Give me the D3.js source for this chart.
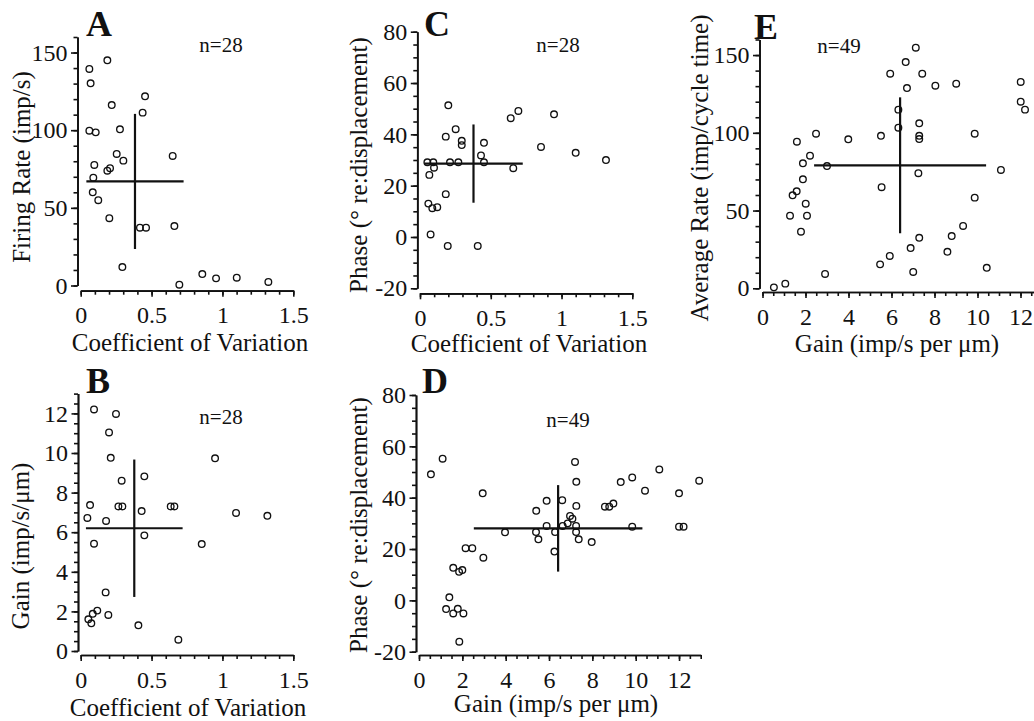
<!DOCTYPE html>
<html>
<head>
<meta charset="utf-8">
<script src="https://cdnjs.cloudflare.com/ajax/libs/d3/7.8.5/d3.min.js"></script>
<style>
body { margin: 0; background: #fff; }
svg { display: block; }
svg text { font-family: "Liberation Serif", "Times New Roman", Times, serif; }
</style>
</head>
<body>
<svg id="svg"></svg>
<script>
// A : coefficient de variation / firing rate
var cvA = [0.061, 0.07, 0.188, 0.061, 0.106, 0.219, 0.277, 0.454, 0.437, 0.096, 0.254, 0.301, 0.188, 0.207,
	0.089, 0.085, 0.124, 0.202, 0.649, 0.418, 0.461, 0.661, 0.294, 0.696, 0.858, 0.955, 1.101, 1.324]
var rateA = [139.4, 130.2, 145, 99.7, 98.6, 116.2, 100.6, 121.8, 111.3, 77.6, 84.7, 80.4, 73.9, 75.5,
	69.4, 60, 54.9, 43.3, 83.4, 37.2, 37.2, 38.3, 11.9, 0.5, 7.4, 4.6, 5, 2.3]

// B : coefficient de variation / gain
var cvB = [0.094, 0.249, 0.2, 0.212, 0.948, 0.449, 0.289, 0.066, 0.266, 0.294, 0.43, 0.635, 0.661, 1.096,
	1.317, 0.047, 0.179, 0.449, 0.094, 0.854, 0.176, 0.054, 0.085, 0.117, 0.075, 0.195, 0.407, 0.689]
var gainB = [12.2, 11.97, 11.04, 9.76, 9.73, 8.82, 8.6, 7.37, 7.3, 7.3, 7.07, 7.3, 7.3, 6.97,
	6.83, 6.72, 6.57, 5.84, 5.42, 5.4, 2.96, 1.6, 1.88, 2.04, 1.4, 1.82, 1.3, 0.57]

// C : coefficient de variation / phase
var cvC = [0.2, 0.641, 0.695, 0.947, 0.252, 0.182, 0.295, 0.295, 0.452, 0.855, 0.431, 1.1, 1.314, 0.052,
	0.094, 0.212, 0.271, 0.452, 0.099, 0.659, 0.066, 0.182, 0.059, 0.087, 0.122, 0.075, 0.196, 0.408]
var phaseC = [51.3, 46.3, 49.1, 47.8, 42, 39.1, 37.5, 35.8, 36.7, 35.1, 31.8, 32.8, 30, 29.1,
	29.1, 29.1, 29.1, 29.1, 27, 26.8, 24.2, 16.7, 13, 11.2, 11.6, 1, -3.5, -3.5]

// D : gain / phase
var gainD = [0.55, 1.09, 2.94, 2.15, 2.46, 2.97, 3.97, 5.41, 5.89, 6.61, 7.2, 7.26, 7.26, 5.4, 5.51, 5.89,
	6.28, 6.25, 6.63, 6.86, 6.97, 7.08, 7.25, 7.25, 7.37, 7.97, 8.58, 8.78, 8.97, 9.31, 9.84, 9.84,
	10.43, 11.09, 12.0, 12.93, 12.0, 12.21, 1.58, 1.85, 2.0, 1.4, 1.25, 1.58, 1.79, 2.05, 1.86]
var phaseD = [49.1, 55.2, 41.7, 20.3, 20.3, 16.6, 26.5, 34.9, 38.8, 39, 53.9, 46.2, 36.8, 26.6, 23.8, 29,
	26.6, 19, 29, 30, 32.9, 31.8, 29, 26.6, 23.8, 22.7, 36.5, 36.5, 37.7, 46.1, 47.9, 28.7,
	42.7, 51, 41.7, 46.6, 28.7, 28.7, 12.7, 11.1, 11.8, 1.2, -3.4, -5.1, -3.3, -5.1, -16.1]

// E : gain / average rate
var gainE = [0.53, 1.06, 2.91, 1.28, 1.4, 1.59, 1.79, 2.01, 2.07, 1.88, 1.88, 1.6, 2.21, 2.49, 3.0, 3.99,
	7.13, 6.66, 5.94, 7.43, 6.72, 8.04, 9.01, 12.01, 12.01, 12.21, 6.32, 6.32, 7.29, 7.29, 7.29,
	9.87, 5.51, 7.25, 11.09, 5.54, 9.87, 9.33, 8.8, 7.29, 6.89, 8.6, 5.92, 5.47, 7.01, 10.43]
var rateE = [0.6, 3, 9.2, 46.7, 59.8, 62.4, 36.4, 54.4, 46.7, 70.1, 80.4, 94.3, 85.3, 99.4, 78.6, 95.8,
	154.7, 145.5, 138, 138, 128.8, 130.3, 131.6, 132.7, 120, 114.9, 114.9, 103.3, 106.1, 98.1, 96,
	99.4, 98.1, 74, 76.1, 65, 58.3, 40.1, 33.6, 32.5, 25.9, 23.5, 20.8, 15.4, 10.5, 13.2]

// croix moyenne : [moyenne x, ecart x, moyenne y, ecart y]
var crossA = [0.383, 0.343, 67, 43.5]
var crossB = [0.378, 0.341, 6.2, 3.47]
var crossC = [0.378, 0.348, 28.6, 15.25]
var crossD = [6.42, 3.89, 28.05, 16.85]
var crossE = [6.4, 4.0, 79.1, 43.7]

// graduations
var ticksCV = [0, 0.5, 1, 1.5]
var ticksRate = [0, 50, 100, 150]
var ticksGainB = [0, 2, 4, 6, 8, 10, 12]
var ticksPhase = [-20, 0, 20, 40, 60, 80]
var ticksGain = [0, 2, 4, 6, 8, 10, 12]

var nLabels = ["n=28", "n=28", "n=28", "n=49", "n=49"]

var SERIF = "Liberation Serif, Times New Roman, Times, serif"

Figure =
{
	panels: [
		{ letter: "A", xs: cvA, ys: rateA, cross: crossA, n: nLabels[0],
			xDom: [0, 1.5], xRange: [80.7, 293.3], xMajor: ticksCV, xMinor: 0.1, xAxisY: 290.7,
			yDom: [0, 160], yRange: [285.5, 37], yMajor: ticksRate, yMinor: 10, yAxisX: 77.5,
			xTitle: "Coefficient of Variation", xTitlePos: [190, 351],
			yTitle: "Firing Rate (imp/s)", yTitlePos: [30, 167],
			letterPos: [86, 36], nPos: [221, 52] },
		{ letter: "B", xs: cvB, ys: gainB, cross: crossB, n: nLabels[1],
			xDom: [0, 1.5], xRange: [80.7, 293.3], xMajor: ticksCV, xMinor: 0.1, xAxisY: 655,
			yDom: [0, 13], yRange: [651, 393.6], yMajor: ticksGainB, yMinor: 0.5, yAxisX: 78,
			xTitle: "Coefficient of Variation", xTitlePos: [188, 716],
			yTitle: "Gain (imp/s/\u03bcm)", yTitlePos: [29, 546],
			letterPos: [86, 393], nPos: [221, 424] },
		{ letter: "C", xs: cvC, ys: phaseC, cross: crossC, n: nLabels[2],
			xDom: [0, 1.5], xRange: [420, 632.3], xMajor: ticksCV, xMinor: 0.1, xAxisY: 293.3,
			yDom: [-20, 80], yRange: [288.3, 31.7], yMajor: ticksPhase, yMinor: 5, yAxisX: 417.3,
			xTitle: "Coefficient of Variation", xTitlePos: [529, 352],
			yTitle: "Phase (\u00b0 re:displacement)", yTitlePos: [367, 165],
			letterPos: [424, 36], nPos: [558, 52] },
		{ letter: "D", xs: gainD, ys: phaseD, cross: crossD, n: nLabels[3],
			xDom: [0, 13], xRange: [419, 700.7], xMajor: ticksGain, xMinor: 0.5, xAxisY: 655,
			yDom: [-20, 80], yRange: [651.7, 395], yMajor: ticksPhase, yMinor: 5, yAxisX: 416,
			xTitle: "Gain (imp/s per \u03bcm)", xTitlePos: [556, 712],
			yTitle: "Phase (\u00b0 re:displacement)", yTitlePos: [367, 525],
			letterPos: [422, 393], nPos: [568, 427] },
		{ letter: "E", xs: gainE, ys: rateE, cross: crossE, n: nLabels[4],
			xDom: [0, 13], xRange: [762.5, 1042], xMajor: ticksGain, xMinor: 0.5, xAxisY: 292,
			yDom: [0, 160], yRange: [288.3, 39.5], yMajor: ticksRate, yMinor: 10, yAxisX: 759.5,
			xTitle: "Gain (imp/s per \u03bcm)", xTitlePos: [897, 352],
			yTitle: "Average Rate (imp/cycle time)", yTitlePos: [708, 168],
			letterPos: [754, 39], nPos: [839, 53] }
	],

	draw_line(g, x1, y1, x2, y2, w){
		g.append("line")
			.attr("x1", x1)
			.attr("y1", y1)
			.attr("x2", x2)
			.attr("y2", y2)
			.attr("stroke", "#111")
			.attr("stroke-width", w)
	},

	draw_text(g, text, x, y, size, weight, anchor){
		return g.append("text")
			.text(text)
			.attr("x", x)
			.attr("y", y)
			.attr("fill", "#111")
			.style("font-family", SERIF)
			.style("font-size", size + "px")
			.style("font-weight", weight)
			.attr("text-anchor", anchor)
	},

	// petites graduations entre les grandes
	minor_ticks(dom, step){
		var out = []
		var k = Math.round((dom[1] - dom[0]) / step)
		for (let i = 0; i <= k; i++){
			out.push(+(dom[0] + i * step).toFixed(4))
		}
		return out
	},

	draw_panel(p){
		var that = this
		var g = canevas.append("g")

		var x = d3.scaleLinear().domain(p.xDom).range(p.xRange)
		var y = d3.scaleLinear().domain(p.yDom).range(p.yRange)
		var fmt = function(d){ return String(d) }

		// axe y : petites puis grandes graduations (groupes separes)
		g.append("g").attr("transform", "translate(" + p.yAxisX + ",0)")
			.call(d3.axisLeft(y).tickValues(that.minor_ticks(p.yDom, p.yMinor)).tickSize(4).tickSizeOuter(0).tickFormat(""))
		g.append("g").attr("transform", "translate(" + p.yAxisX + ",0)")
			.call(d3.axisLeft(y).tickValues(p.yMajor).tickSize(6.5).tickSizeOuter(0).tickPadding(3.5).tickFormat(fmt))

		// axe x
		g.append("g").attr("transform", "translate(0," + p.xAxisY + ")")
			.call(d3.axisBottom(x).tickValues(that.minor_ticks(p.xDom, p.xMinor)).tickSize(4).tickSizeOuter(0).tickFormat(""))
		g.append("g").attr("transform", "translate(0," + p.xAxisY + ")")
			.call(d3.axisBottom(x).tickValues(p.xMajor).tickSize(6).tickSizeOuter(0).tickPadding(9.5).tickFormat(fmt))

		g.selectAll(".domain").attr("stroke", "#111").attr("stroke-width", 1.7)
		g.selectAll(".tick line").attr("stroke", "#111").attr("stroke-width", 1.6)
		g.selectAll(".tick text")
			.attr("fill", "#111")
			.style("font-family", SERIF)
			.style("font-size", "24px")

		// croix moyenne +/- ecart type
		var c = p.cross
		that.draw_line(g, x(c[0] - c[1]), y(c[2]), x(c[0] + c[1]), y(c[2]), 2.2)
		that.draw_line(g, x(c[0]), y(c[2] - c[3]), x(c[0]), y(c[2] + c[3]), 2.2)

		// points
		g.append("g").selectAll("circle")
			.data(d3.zip(p.xs, p.ys))
			.enter()
			.append("circle")
			.attr("cx", function(d){ return x(d[0]) })
			.attr("cy", function(d){ return y(d[1]) })
			.attr("r", 3.3)
			.attr("fill", "none")
			.attr("stroke", "#111")
			.attr("stroke-width", 1.35)

		// textes
		that.draw_text(g, p.letter, p.letterPos[0], p.letterPos[1], 36, "bold", "start")
		that.draw_text(g, p.n, p.nPos[0], p.nPos[1], 21, "normal", "middle")
		that.draw_text(g, p.xTitle, p.xTitlePos[0], p.xTitlePos[1], 25, "normal", "middle")
		that.draw_text(g, p.yTitle, 0, 0, 25, "normal", "middle")
			.attr("transform", "translate(" + p.yTitlePos[0] + "," + p.yTitlePos[1] + ") rotate(-90)")
	},

	init_canevas(){
		canevas = d3.select("#svg")
			.attr("width", 1034)
			.attr("height", 721)
		canevas.append("rect").attr("width", 1034).attr("height", 721).attr("fill", "#fff")
	},

	init(){
		var that = this
		that.init_canevas()
		that.panels.forEach(function(p){ that.draw_panel(p) })
	}
}

Figure.init();
</script>
</body>
</html>
